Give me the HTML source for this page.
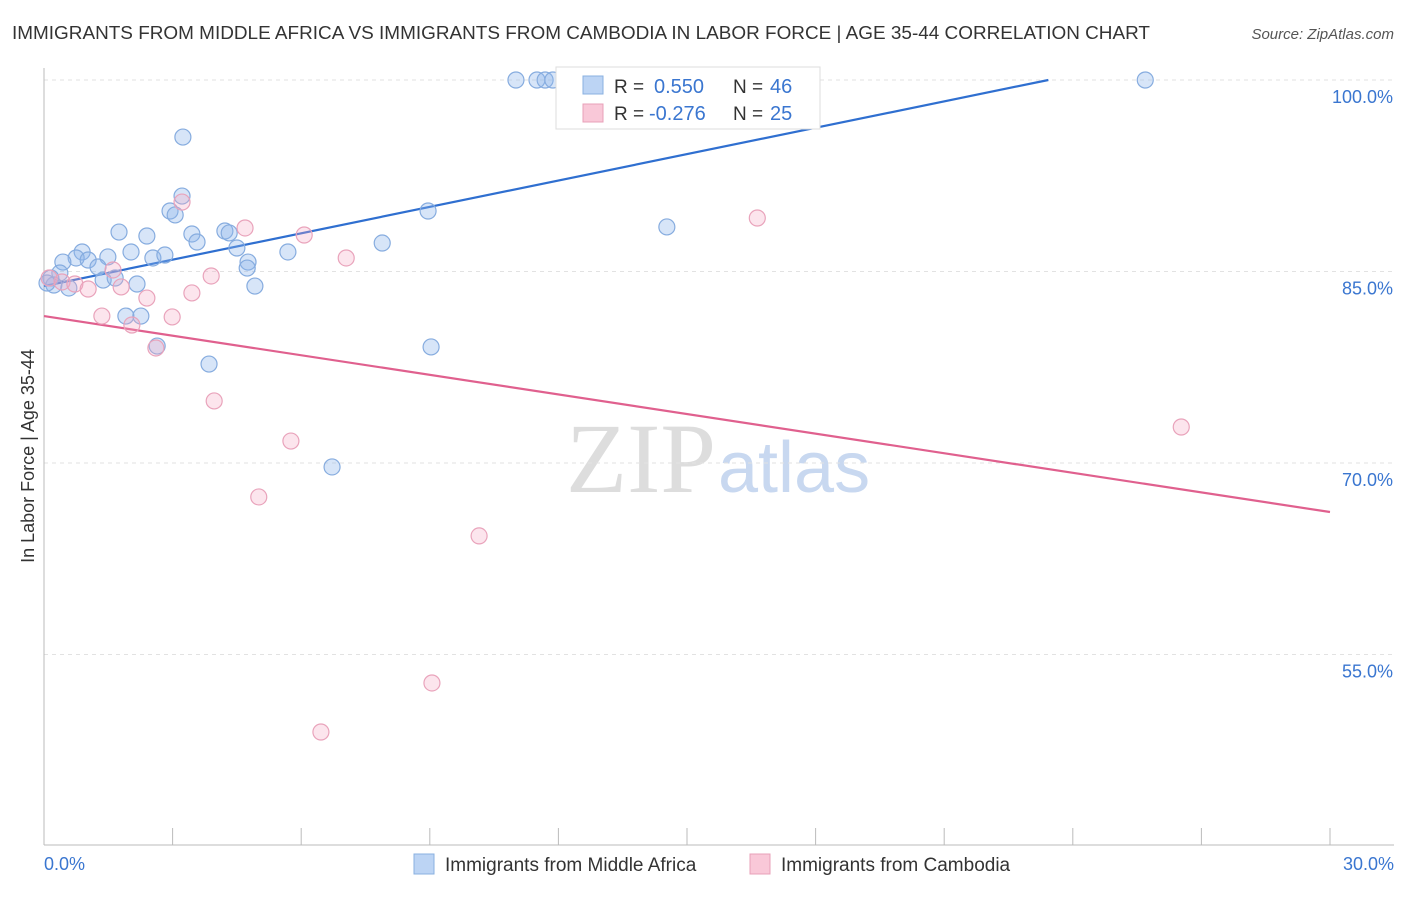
<!DOCTYPE html>
<html><head><meta charset="utf-8">
<style>
body{margin:0;background:#fff;font-family:"Liberation Sans",sans-serif;}
svg text{font-family:"Liberation Sans",sans-serif;}
</style></head>
<body>
<svg id="chart" width="1406" height="892" viewBox="0 0 1406 892" xmlns="http://www.w3.org/2000/svg">
<text x="12" y="39" font-size="18" fill="#333" textLength="1138" lengthAdjust="spacingAndGlyphs">IMMIGRANTS FROM MIDDLE AFRICA VS IMMIGRANTS FROM CAMBODIA IN LABOR FORCE | AGE 35-44 CORRELATION CHART</text>
<text x="1394" y="39" font-size="15" fill="#555" text-anchor="end" font-style="italic">Source: ZipAtlas.com</text>
<text x="716" y="492" font-size="100" fill="#ddd" text-anchor="end" style="font-family:'Liberation Serif',serif">ZIP</text>
<text x="718" y="492" font-size="72" fill="#c8d8f0">atlas</text>
<text x="34" y="456" font-size="18" fill="#333" text-anchor="middle" transform="rotate(-90 34 456)">In Labor Force | Age 35-44</text>
<g id="grid"></g><g id="axes"></g><g id="trends"></g><g id="points"></g>
<g>
<rect x="556" y="67" width="264" height="62" fill="#fff" stroke="#ddd"/>
<rect x="583" y="76" width="20" height="18" fill="#bcd4f4" stroke="#8ab0e0"/>
<rect x="583" y="104" width="20" height="18" fill="#f9c8d8" stroke="#e8a0b8"/>
<text x="614" y="93" font-size="19" fill="#333">R =</text>
<text x="654" y="93" font-size="20" fill="#3a76d0">0.550</text>
<text x="733" y="93" font-size="19" fill="#333">N =</text>
<text x="770" y="93" font-size="20" fill="#3a76d0">46</text>
<text x="614" y="120" font-size="19" fill="#333">R =</text>
<text x="649" y="120" font-size="20" fill="#3a76d0">-0.276</text>
<text x="733" y="120" font-size="19" fill="#333">N =</text>
<text x="770" y="120" font-size="20" fill="#3a76d0">25</text>
</g>
<g>
<rect x="414" y="854" width="20" height="20" fill="#bcd4f4" stroke="#8ab0e0"/>
<text x="445" y="871" font-size="19" fill="#333">Immigrants from Middle Africa</text>
<rect x="750" y="854" width="20" height="20" fill="#f9c8d8" stroke="#e8a0b8"/>
<text x="781" y="871" font-size="19" fill="#333">Immigrants from Cambodia</text>
</g>
</svg>
<script>
const blueX=[11.01,11.50,11.69,11.87,25.69,3.24,3.22,2.94,3.06,8.96,1.75,2.40,3.45,3.57,4.22,4.32,4.50,5.69,7.89,14.53,2.03,0.89,0.75,0.44,1.03,1.49,2.54,2.82,1.26,4.76,4.74,0.37,0.16,0.23,0.58,1.38,1.66,2.17,4.92,1.91,2.26,2.64,3.85,9.03,6.72,0.07];
const blueY=[100,100,100,100,100,95.53,90.91,89.74,89.43,89.74,88.09,87.78,87.94,87.31,88.17,88.02,86.84,86.53,87.23,88.49,86.53,86.53,86.06,85.74,85.90,86.14,86.06,86.29,85.35,85.74,85.27,84.88,84.49,83.94,83.71,84.33,84.49,84.02,83.86,81.51,81.51,79.16,77.75,79.09,69.69,84.10];
const pinkX=[0.12,0.42,0.72,1.03,1.61,1.80,1.35,2.05,2.40,2.61,2.99,3.45,3.22,3.90,4.69,6.07,7.05,3.97,5.76,5.01,10.15,9.05,6.46,16.64,26.53];
const pinkY=[84.49,84.18,84.02,83.63,85.12,83.79,81.51,80.81,82.92,79.01,81.44,83.32,90.44,84.65,88.41,87.86,86.06,74.86,71.72,67.34,64.29,52.77,48.93,89.19,72.82];
const blueTrend=[[0,83.86],[23.43,100]];
const pinkTrend=[[0,81.51],[30,66.16]];
const yTicks=[100,85,70,55];
const yTickLabels=["100.0%","85.0%","70.0%","55.0%"];
const xTicks=[0,3,6,9,12,15,18,21,24,27,30];
const NS="http://www.w3.org/2000/svg";
const sx=v=>44+v/30*1286;
const sy=v=>80+(100-v)*191.5/15;
function mk(tag,attrs,parent){const e=document.createElementNS(NS,tag);for(const k in attrs)e.setAttribute(k,attrs[k]);document.getElementById(parent).appendChild(e);return e;}
yTicks.forEach((t,i)=>{
 const l=mk('line',{x1:44,x2:1394,y1:sy(t),y2:sy(t),stroke:'#e2e2e2','stroke-dasharray':'4,4'},'grid');
 
 
 const tx=mk('text',{x:1393,y:sy(t)+23,'font-size':18,fill:'#3a76d0','text-anchor':'end'},'grid');
 tx.textContent=yTickLabels[i];
 
 
});
const ya=mk('line',{x1:44,x2:44,y1:68,y2:845,stroke:'#bbb'},'axes');


const xa=mk('line',{x1:44,x2:1394,y1:845,y2:845,stroke:'#bbb'},'axes');


xTicks.forEach(t=>{
 const l=mk('line',{x1:sx(t),x2:sx(t),y1:828,y2:845,stroke:'#bbb'},'axes');
 
 
});
const x0=mk('text',{x:44,y:870,'font-size':18,fill:'#3a76d0'},'axes');x0.textContent='0.0%';


const x1=mk('text',{x:1394,y:870,'font-size':18,fill:'#3a76d0','text-anchor':'end'},'axes');x1.textContent='30.0%';


function pts(xs,ys,fill,stroke,name){xs.forEach((x,i)=>{
 const c=mk('circle',{cx:sx(x),cy:sy(ys[i]),r:8,fill:fill,stroke:stroke,'stroke-width':1.2},'points');
 
 
});}
pts(blueX,blueY,'rgba(140,180,235,0.35)','#86acdf','point-middle-africa');
pts(pinkX,pinkY,'rgba(245,170,195,0.3)','#e9a3bb','point-cambodia');
const bt=mk('line',{x1:sx(blueTrend[0][0]),y1:sy(blueTrend[0][1]),x2:sx(blueTrend[1][0]),y2:sy(blueTrend[1][1]),stroke:'#2f6fd0','stroke-width':2.2},'trends');


const pt=mk('line',{x1:sx(pinkTrend[0][0]),y1:sy(pinkTrend[0][1]),x2:sx(pinkTrend[1][0]),y2:sy(pinkTrend[1][1]),stroke:'#e0608e','stroke-width':2.2},'trends');


</script>
</body></html>
